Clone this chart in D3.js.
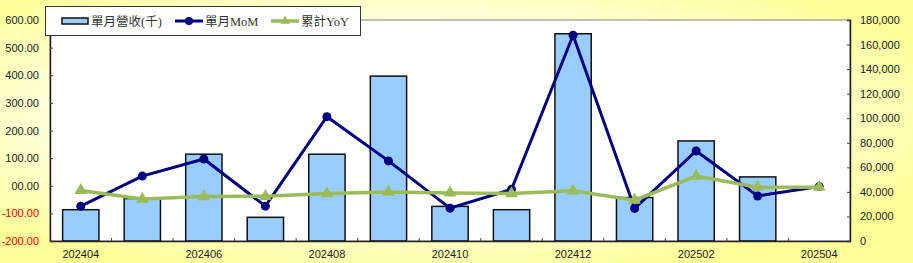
<!DOCTYPE html>
<html>
<head>
<meta charset="utf-8">
<script src="https://cdn.jsdelivr.net/npm/d3@7"></script>
<style>
  body { margin: 0; background: #fff; }
  svg { display: block; }
  .tick text { font-family: "Liberation Sans", Arial, sans-serif; font-size: 11px; }
  .legend text { font-family: "Liberation Serif", "Noto Sans CJK TC", serif; font-size: 12.5px; fill: #333; }
</style>
</head>
<body>
<div class="chart"></div>
<script>
// months on the x axis
const months = ["202404","202405","202406","202407","202408","202409","202410",
                "202411","202412","202501","202502","202503","202504"];
// 單月營收(千) - right axis
const revenue = [25.5, 34.6, 70.7, 19.3, 70.7, 134.3, 28.2, 25.5, 168.8, 35.4, 81.5, 52.2, null].map(v => v == null ? null : v * 1000);
// 單月MoM (%) - left axis
const mom = [-74, 35, 97, -74, 250, 90, -81, -13, 545, -82, 126, -37, -3];
// 累計YoY (%) - left axis
const yoy = [-17, -48, -39, -38, -28, -23, -26, -28, -18, -52, 35, -5, -5];

const leftTicks = [-200, -100, 0, 100, 200, 300, 400, 500, 600];
const rightTicks = [0, 20000, 40000, 60000, 80000, 100000, 120000, 140000, 160000, 180000];
const legendLabels = ["單月營收(千)", "單月MoM", "累計YoY"];

const W = 913, H = 263;
const margin = {top: 20, right: 63, bottom: 22, left: 50};
const width = W - margin.left - margin.right,
      height = H - margin.top - margin.bottom;

const svg = d3.select(".chart").append("svg")
    .attr("width", W).attr("height", H);

// background gradient
const defs = svg.append("defs");
const grad = defs.append("radialGradient").attr("id", "bg")
    .attr("cx", "45%").attr("cy", "45%").attr("r", "62%");
grad.append("stop").attr("offset", "0%").attr("stop-color", "#ffffff");
grad.append("stop").attr("offset", "55%").attr("stop-color", "#ffffe6");
grad.append("stop").attr("offset", "100%").attr("stop-color", "#ffff99");
svg.append("rect").attr("width", W).attr("height", H).attr("fill", "url(#bg)");

const g = svg.append("g").attr("transform", `translate(${margin.left},${margin.top})`);

// plot area
g.append("rect").attr("width", width).attr("height", height)
    .attr("fill", "#fff").attr("stroke", "#808080").attr("stroke-width", 1);

const x = d3.scaleBand().domain(months).range([0, width]);
const yL = d3.scaleLinear().domain([-200, 600]).range([height, 0]);
const yR = d3.scaleLinear().domain([0, 180000]).range([height, 0]);

// bars
g.append("g").selectAll("rect")
  .data(months.map((m, i) => ({m, v: revenue[i]})).filter(d => d.v != null))
  .join("rect")
    .attr("x", d => x(d.m) + x.bandwidth() * 0.205)
    .attr("width", x.bandwidth() * 0.59)
    .attr("y", d => yR(d.v))
    .attr("height", d => height - yR(d.v))
    .attr("fill", "#99ccff")
    .attr("stroke", "#111").attr("stroke-width", 1.5);

// axes
const xAxis = g.append("g").attr("transform", `translate(0,${height})`)
    .call(d3.axisBottom(x).tickSize(0).tickFormat((d, i) => i % 2 === 0 ? d : ""));
xAxis.select(".domain").attr("stroke", "#222").attr("stroke-width", 1.5);
xAxis.selectAll(".tick text").attr("dy", "1.25em").attr("fill", "#222");
// category boundary ticks (inside)
g.append("g").selectAll("line").data(months.slice(1))
  .join("line")
    .attr("x1", d => x(d)).attr("x2", d => x(d))
    .attr("y1", height).attr("y2", height - 3)
    .attr("stroke", "#444");

const leftAxis = g.append("g")
    .call(d3.axisLeft(yL).tickValues(leftTicks).tickSize(-3).tickPadding(11)
      .tickFormat(d3.format(".2f")));
leftAxis.select(".domain").attr("stroke", "#222").attr("stroke-width", 1.5);
leftAxis.selectAll(".tick line").attr("stroke", "#444");
leftAxis.selectAll(".tick text").attr("fill", d => d < 0 ? "#ff0000" : "#222")
    .text(d => d === 0 ? "00.00" : d3.format(".2f")(d).replace("−", "-"));

const rightAxis = g.append("g").attr("transform", `translate(${width},0)`)
    .call(d3.axisRight(yR).tickValues(rightTicks).tickSize(-3).tickPadding(10)
      .tickFormat(d3.format(",")));
rightAxis.select(".domain").attr("stroke", "#222").attr("stroke-width", 1.5);
rightAxis.selectAll(".tick line").attr("stroke", "#444");
rightAxis.selectAll(".tick text").attr("fill", "#222");

const cx = m => x(m) + x.bandwidth() / 2;

// MoM line
const momLine = d3.line().x((d, i) => cx(months[i])).y(d => yL(d));
g.append("path").datum(mom).attr("d", momLine)
    .attr("fill", "none").attr("stroke", "#000080").attr("stroke-width", 3);
g.append("g").selectAll("circle").data(mom).join("circle")
    .attr("cx", (d, i) => cx(months[i])).attr("cy", d => yL(d))
    .attr("r", 4.5).attr("fill", "#000080");

// YoY line
g.append("path").datum(yoy).attr("d", momLine)
    .attr("fill", "none").attr("stroke", "#9bbb59").attr("stroke-width", 3.5);
const tri = d3.symbol().type(d3.symbolTriangle).size(70);
g.append("g").selectAll("path").data(yoy).join("path")
    .attr("d", tri)
    .attr("transform", (d, i) => `translate(${cx(months[i])},${yL(d)})`)
    .attr("fill", "#9bbb59");

// legend
const legend = svg.append("g").attr("class", "legend");
legend.append("rect").attr("x", 45.5).attr("y", 6.5).attr("width", 315).attr("height", 29)
    .attr("fill", "#fff").attr("stroke", "#333");
const ly = 21;
legend.append("rect").attr("x", 62).attr("y", ly - 3).attr("width", 26).attr("height", 6)
    .attr("fill", "#99ccff").attr("stroke", "#111").attr("stroke-width", 1.5);
legend.append("text").attr("x", 91).attr("y", ly + 5).text(legendLabels[0]);

legend.append("line").attr("x1", 175).attr("x2", 203).attr("y1", ly).attr("y2", ly)
    .attr("stroke", "#000080").attr("stroke-width", 3);
legend.append("circle").attr("cx", 189).attr("cy", ly).attr("r", 4).attr("fill", "#000080");
legend.append("text").attr("x", 205).attr("y", ly + 5).text(legendLabels[1]);

legend.append("line").attr("x1", 271).attr("x2", 299).attr("y1", ly).attr("y2", ly)
    .attr("stroke", "#9bbb59").attr("stroke-width", 3.5);
legend.append("path").attr("d", d3.symbol().type(d3.symbolTriangle).size(40))
    .attr("transform", `translate(285,${ly})`).attr("fill", "#9bbb59");
legend.append("text").attr("x", 301).attr("y", ly + 5).text(legendLabels[2]);
</script>
</body>
</html>
